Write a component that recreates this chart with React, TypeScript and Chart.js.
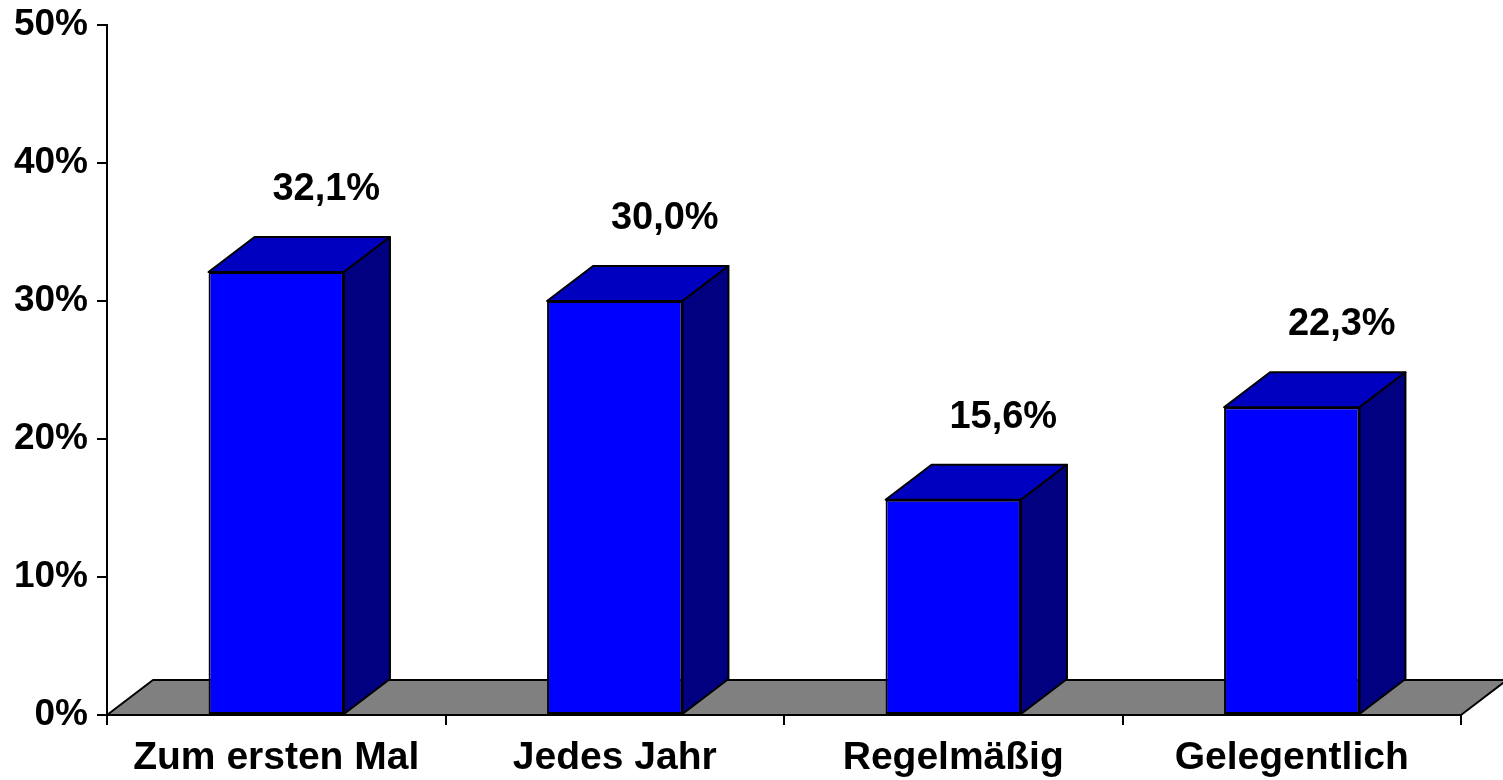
import React, { useEffect, useRef } from 'react';
import { Chart, registerables } from 'chart.js';

Chart.register(...registerables);

const categories = ['Zum ersten Mal', 'Jedes Jahr', 'Regelmäßig', 'Gelegentlich'];
const values = [32.1, 30.0, 15.6, 22.3];
const valueLabels = ['32,1%', '30,0%', '15,6%', '22,3%'];
const yMin = 0;
const yMax = 50;
const yStep = 10;

const FONT = '"Liberation Sans", Arial, Helvetica, sans-serif';
const DX = 46;
const DY = 35;

const bar3d = {
  id: 'bar3d',
  beforeDatasetsDraw(chart: any) {
    const { ctx, scales } = chart;
    const x = scales.x;
    const y = scales.y;
    const y0 = y.getPixelForValue(0);
    ctx.save();
    ctx.beginPath();
    ctx.moveTo(x.left, y0);
    ctx.lineTo(x.right, y0);
    ctx.lineTo(x.right + DX, y0 - DY);
    ctx.lineTo(x.left + DX, y0 - DY);
    ctx.closePath();
    ctx.fillStyle = '#808080';
    ctx.fill();
    ctx.lineWidth = 2;
    ctx.strokeStyle = '#000';
    ctx.lineJoin = 'round';
    ctx.stroke();
    ctx.restore();
  },
  afterDatasetsDraw(chart: any) {
    const { ctx } = chart;
    const meta = chart.getDatasetMeta(0);
    const poly = (pts: number[][], fill: string) => {
      ctx.beginPath();
      ctx.moveTo(pts[0][0], pts[0][1]);
      for (let k = 1; k < pts.length; k++) ctx.lineTo(pts[k][0], pts[k][1]);
      ctx.closePath();
      ctx.fillStyle = fill;
      ctx.fill();
      ctx.stroke();
    };
    ctx.save();
    ctx.lineWidth = 2;
    ctx.strokeStyle = '#000';
    ctx.lineJoin = 'round';
    meta.data.forEach((bar: any, i: number) => {
      const p = bar.getProps(['x', 'y', 'width', 'base'], true);
      const l = p.x - p.width / 2;
      const r = p.x + p.width / 2;
      const top = p.y;
      const base = p.base;
      poly([[l, top], [r, top], [r + DX, top - DY], [l + DX, top - DY]], '#0000C0');
      poly([[r, top], [r + DX, top - DY], [r + DX, base - DY], [r, base]], '#000080');
      ctx.fillStyle = '#000';
      ctx.font = `bold 38px ${FONT}`;
      ctx.textAlign = 'center';
      ctx.textBaseline = 'alphabetic';
      ctx.fillText(valueLabels[i], p.x + DX + 4, top - DY - 37);
    });
    ctx.restore();
  },
};

export default function App() {
  const ref = useRef<HTMLCanvasElement | null>(null);
  useEffect(() => {
    if (!ref.current) return;
    const chart = new Chart(ref.current, {
      type: 'bar',
      data: {
        labels: categories,
        datasets: [
          {
            data: values,
            backgroundColor: '#0000FF',
            borderColor: '#000',
            borderWidth: 2,
            borderSkipped: false,
            barPercentage: 0.4,
            categoryPercentage: 1,
          },
        ],
      },
      options: {
        responsive: false,
        animation: false,
        events: [],
        layout: { padding: { left: 0, right: 42, top: 25, bottom: 0 } },
        plugins: { legend: { display: false }, tooltip: { enabled: false } },
        scales: {
          x: {
            offset: true,
            afterFit: (s: any) => {
              s.height = 65;
              s.paddingLeft = 0;
              s.paddingRight = 0;
            },
            grid: {
              display: true,
              offset: true,
              drawOnChartArea: false,
              drawTicks: true,
              tickLength: 10,
              color: '#000',
              lineWidth: 2,
            },
            border: { display: true, color: '#000', width: 2 },
            ticks: {
              color: '#000',
              font: { family: FONT, size: 39, weight: 'bold' },
              padding: 10,
              maxRotation: 0,
              autoSkip: false,
            },
          },
          y: {
            min: yMin,
            max: yMax,
            afterFit: (s: any) => {
              s.width = 107;
              s.paddingTop = 0;
              s.paddingBottom = 0;
            },
            grid: {
              display: true,
              drawOnChartArea: false,
              drawTicks: true,
              tickLength: 10,
              color: '#000',
              lineWidth: 2,
            },
            border: { display: true, color: '#000', width: 2 },
            ticks: {
              stepSize: yStep,
              color: '#000',
              padding: 9,
              font: { family: FONT, size: 37, weight: 'bold' },
              callback: (v: any) => `${v}%`,
            },
          },
        },
      },
      plugins: [bar3d],
    });
    return () => chart.destroy();
  }, []);
  return (
    <canvas
      ref={ref}
      width={1503}
      height={780}
      style={{ position: 'absolute', left: 0, top: 0, width: 1503, height: 780, background: '#fff' }}
    />
  );
}
